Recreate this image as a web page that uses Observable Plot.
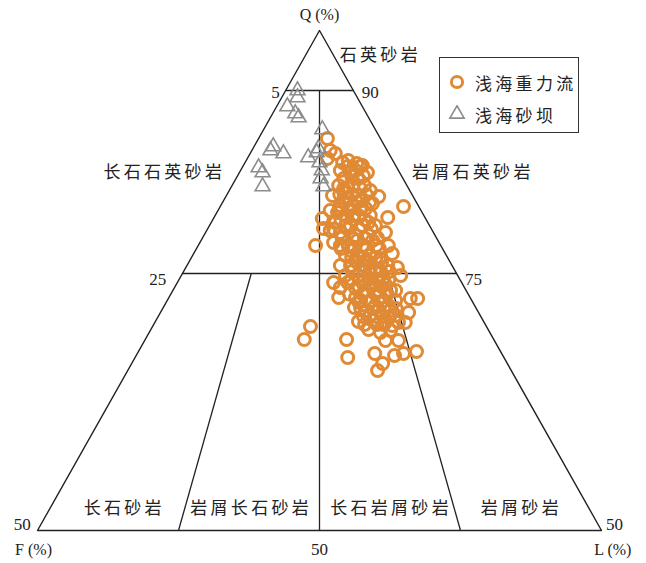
<!DOCTYPE html>
<html>
<head>
<meta charset="utf-8">
<script src="https://cdn.jsdelivr.net/npm/d3@7"></script>
<script src="https://cdn.jsdelivr.net/npm/@observablehq/plot@0.6"></script>
<style>
  html, body { margin: 0; padding: 0; background: #fff; }
  #wrap { position: relative; width: 646px; height: 563px; font-family: "Liberation Serif", "Noto Sans CJK SC", serif; }
  #legend { position: absolute; left: 439px; top: 57px; width: 140px; height: 76px; box-sizing: border-box;
            border: 1.3px solid #333; background: #fff; }
  .row { position: absolute; left: 0; height: 24px; display: flex; align-items: center; }
  .row svg { margin-left: 8px; }
  .row span { margin-left: 9px; font-family: "Noto Sans CJK SC", sans-serif; font-size: 17px; letter-spacing: 3.3px; color: #222; }
</style>
</head>
<body>
<div id="wrap"></div>
<script>
// Sample positions in diagram coordinates (x: 0–100 along the F–L base, y: 0–100 from base to Q apex)
const gravityX = [51.4,51.9,51.4,52.8,54.1,55.1,56.6,57.6,58.5,55.5,54.3,56.9,53.4,55.9,58.0,59.0,54.6,52.3,56.9,60.5,
  59.4,64.9,53.7,55.9,58.2,51.9,54.6,56.9,59.0,62.1,50.5,52.8,55.5,57.6,59.9,50.7,53.7,56.4,58.7,61.7,
  49.3,52.5,55.1,57.6,60.1,62.2,54.6,56.9,59.0,60.8,62.9,55.5,57.8,59.9,62.1,63.8,54.6,56.9,59.0,61.3,
  64.4,52.5,53.7,56.4,58.2,60.5,62.6,53.4,56.4,59.0,61.3,63.5,66.1,67.4,56.2,58.2,60.5,62.6,65.8,56.9,
  59.4,61.7,64.0,58.7,60.8,62.6,48.4,47.3,54.8,64.0,55.0,59.8,61.2,60.3,63.3,64.9,67.2,65.2,61.7,53.7,
  56.4,57.6,55.1,53.2,58.7,54.6,56.7,59.4,55.5,58.2,56.4,59.0,60.8,57.6,59.4,61.7,57.3,59.9,62.2,63.5,
  59.0,61.2,62.9,63.5,53.7,55.0,51.9,53.7,56.0,54.3,
  55.0,57.2,55.7,57.8,54.9,57.1,53.6,55.8,58.3,54.5,56.6,58.9,53.5,55.5,57.2,53.8,56.1,58.0,52.5,55.0,
  57.0,59.2,54.0,55.9,58.0,60.3,53.8,56.2,58.4,60.6,55.7,57.8,60.0,56.7,58.9,61.0,55.8,57.9,60.1,62.4,
  55.7,57.9,60.2,62.3,57.0,59.2,61.0,55.3,57.6,59.9,62.0,57.0,58.8,61.0,57.3,59.5,61.4,63.6,57.8,60.1,
  62.4,58.0,60.2,61.4];
const gravityY = [78.4,76.0,74.4,75.4,73.6,74.0,73.4,73.0,71.6,71.6,70.4,70.4,69.0,69.0,69.0,68.0,67.6,67.0,67.0,66.8,
  65.4,64.8,65.0,65.0,64.4,64.0,63.0,63.0,63.0,62.6,62.4,61.6,61.0,61.0,61.0,60.4,59.6,59.0,59.0,59.6,
  57.0,57.6,57.0,57.0,57.0,57.0,55.0,55.0,55.0,54.4,55.4,53.0,53.0,52.4,53.0,52.6,51.0,51.0,50.4,50.4,
  51.0,49.6,48.6,48.4,48.0,48.0,48.0,46.6,46.6,46.0,46.0,46.0,46.4,46.4,44.6,44.0,44.0,44.0,43.6,41.8,
  42.0,41.6,41.6,40.2,39.6,40.0,40.8,38.2,38.2,38.0,34.6,35.4,33.4,32.0,35.0,35.4,35.8,41.6,38.0,72.0,
  72.0,66.0,66.4,63.6,61.6,61.0,58.0,58.0,56.0,54.0,54.0,52.0,52.0,49.6,49.2,49.2,46.0,45.0,45.0,43.0,
  43.0,42.8,41.0,48.0,53.0,49.6,60.0,57.0,63.0,68.4,
  72.8,72.8,70.9,70.9,68.6,68.6,67.2,67.2,67.2,65.7,65.7,65.7,64.3,64.3,64.3,62.2,62.2,62.2,60.3,60.3,
  60.3,60.3,58.5,58.5,58.5,58.5,56.4,56.4,56.4,56.4,54.6,54.6,54.6,53.6,53.6,53.6,51.8,51.8,51.8,51.8,
  50.2,50.2,50.2,50.2,48.8,48.8,48.8,47.3,47.3,47.3,47.3,45.6,45.6,45.6,44.4,44.4,44.4,44.4,42.8,42.8,
  42.8,41.2,41.2,41.2];
const barX = [46.1,46.1,44.3,45.7,46.3,50.5,41.8,41.3,43.6,48.0,49.5,50.0,39.2,39.9,39.9,50.2,50.7,50.4,49.8];
const barY = [88.0,86.6,84.8,83.4,82.6,80.2,76.8,76.0,75.4,74.6,75.6,73.6,72.6,71.6,68.8,70.4,68.8,72.0,76.4];

// Diagram frame and field boundaries
const outlineX = [0, 50, 100, 0];
const outlineY = [0, 100, 0, 0];
const boundX1 = [44.0, 25.7, 50, 37.9, 62.1];
const boundY1 = [88.0, 51.4, 88, 51.4, 51.4];
const boundX2 = [56.0, 74.3, 50, 25.0, 75.0];
const boundY2 = [88.0, 51.4, 0, 0, 0];

// Field names
const fieldNames = ["石英砂岩", "长石石英砂岩", "岩屑石英砂岩", "长石砂岩", "岩屑长石砂岩", "长石岩屑砂岩", "岩屑砂岩"];
const fieldX = [60.5, 22.2, 76.9, 15.1, 37.6, 62.4, 85.5];
const fieldY = [95.0, 71.6, 71.6, 4.4, 4.4, 4.4, 4.4];

// Tick labels and pole labels
const tickLabels = ["5", "90", "25", "75", "50", "50", "50"];
const tickX = [42.2, 59.0, 21.3, 77.3, -2.7, 102.3, 50];
const tickY = [87.6, 87.6, 50.2, 50.2, 1.2, 1.2, -3.8];
const poleLabels = ["Q (%)", "F (%)", "L (%)"];
const poleX = [50, -0.7, 102.0];
const poleY = [103.2, -3.8, -3.8];

const legendNames = ["浅海重力流", "浅海砂坝"];

const orange = "#e08a35";
const grey = "#8c8c8c";

const gravity = gravityX.map((x, i) => ({x, y: gravityY[i]}));
const bars = barX.map((x, i) => ({x, y: barY[i]}));
const bounds = boundX1.map((x1, i) => ({x1, y1: boundY1[i], x2: boundX2[i], y2: boundY2[i]}));
const outline = outlineX.map((x, i) => ({x, y: outlineY[i]}));
const fields = fieldNames.map((t, i) => ({t, x: fieldX[i], y: fieldY[i]}));
const ticks = tickLabels.map((t, i) => ({t, x: tickX[i], y: tickY[i]}));
const poles = poleLabels.map((t, i) => ({t, x: poleX[i], y: poleY[i]}));

const chart = Plot.plot({
  width: 646,
  height: 563,
  marginLeft: 37,
  marginRight: 45,
  marginTop: 30,
  marginBottom: 33,
  x: {domain: [0, 100], axis: null},
  y: {domain: [0, 100], axis: null},
  style: {background: "#fff", overflow: "visible", fontFamily: "'Liberation Serif', 'Noto Sans CJK SC', serif"},
  marks: [
    Plot.line(outline, {x: "x", y: "y", stroke: "#222", strokeWidth: 1.4}),
    Plot.link(bounds, {x1: "x1", y1: "y1", x2: "x2", y2: "y2", stroke: "#222", strokeWidth: 1.3}),
    Plot.dot(gravity, {x: "x", y: "y", r: 6, stroke: orange, strokeWidth: 3, fill: "none"}),
    Plot.dot(bars, {x: "x", y: "y", r: 5.5, symbol: "triangle", stroke: grey, strokeWidth: 1.6, fill: "none"}),
    Plot.text(fields, {x: "x", y: "y", text: "t", fontSize: 17, dx: 1.6, fill: "#222", fontFamily: "'Noto Sans CJK SC', sans-serif"}),
    Plot.text(ticks, {x: "x", y: "y", text: "t", fontSize: 17, fill: "#222"}),
    Plot.text(poles, {x: "x", y: "y", text: "t", fontSize: 16, fill: "#222"})
  ]
});

d3.select(chart).selectAll("text").filter(function() { return /[\u4e00-\u9fff]/.test(this.textContent); })
  .attr("letter-spacing", "3.3px");

const wrap = document.getElementById("wrap");
wrap.appendChild(chart);

const legend = document.createElement("div");
legend.id = "legend";
legend.innerHTML = `
  <div class="row" style="top:12px">
    <svg width="18" height="18" viewBox="-9 -9 18 18"><circle r="5.6" fill="none" stroke="${orange}" stroke-width="3"/></svg>
    <span>${legendNames[0]}</span>
  </div>
  <div class="row" style="top:44px">
    <svg width="18" height="18" viewBox="-9 -9 18 18"><path d="${d3.symbol(d3.symbolTriangle, Math.PI * 5.3 * 5.3)()}" fill="none" stroke="${grey}" stroke-width="1.6"/></svg>
    <span>${legendNames[1]}</span>
  </div>`;
wrap.appendChild(legend);
</script>
</body>
</html>
